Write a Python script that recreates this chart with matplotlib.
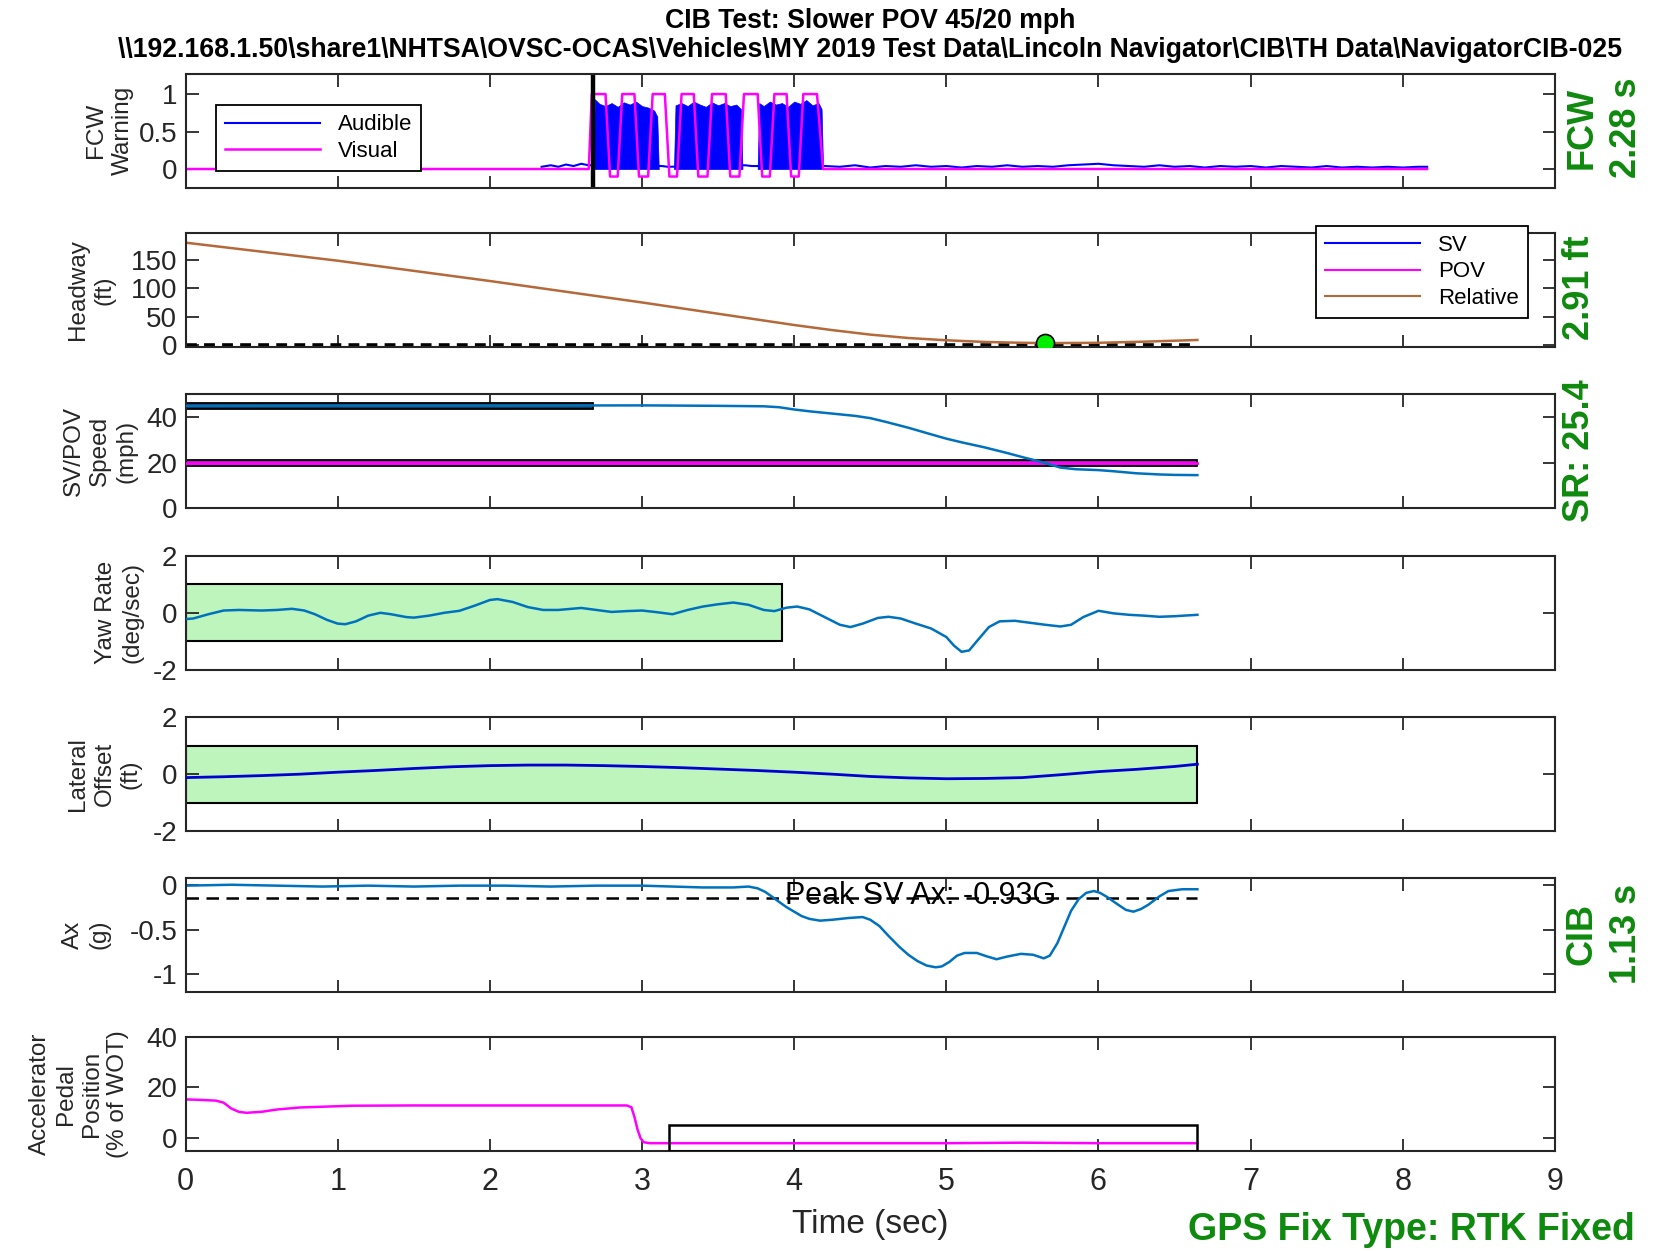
import matplotlib
matplotlib.use('Agg')
import matplotlib.pyplot as plt
from matplotlib.patches import Rectangle
from matplotlib.lines import Line2D

plt.rcParams['font.family'] = ['Liberation Sans', 'DejaVu Sans']

# ---------------- data ----------------
title_line1 = "CIB Test: Slower POV 45/20 mph"
title_line2 = r"\\192.168.1.50\share1\NHTSA\OVSC-OCAS\Vehicles\MY 2019 Test Data\Lincoln Navigator\CIB\TH Data\NavigatorCIB-025"

x_ticks = [0, 1, 2, 3, 4, 5, 6, 7, 8, 9]

# FCW panel
fcw_time = 2.68
vis_t = [0, 2.65, 2.67, 2.76, 2.79, 2.84, 2.87, 2.95, 2.98, 3.04, 3.07, 3.15, 3.18, 3.23,
         3.26, 3.34, 3.37, 3.43, 3.46, 3.55, 3.58, 3.64, 3.67, 3.76, 3.79, 3.84, 3.87, 3.95,
         3.98, 4.03, 4.06, 4.15, 4.19, 8.16]
vis_v = [0, 0, 1, 1, -0.1, -0.1, 1, 1, -0.1, -0.1, 1, 1, -0.1, -0.1,
         1, 1, -0.1, -0.1, 1, 1, -0.1, -0.1, 1, 1, -0.1, -0.1, 1, 1,
         -0.1, -0.1, 1, 1, 0, 0]
aud_base_t = [2.34, 2.40, 2.45, 2.50, 2.55, 2.60, 2.65, 3.13, 3.17, 3.68, 3.72,
              4.20, 4.30, 4.40, 4.50, 4.60, 4.70, 4.80, 4.90, 5.00, 5.10, 5.20, 5.30,
              5.40, 5.50, 5.60, 5.70, 5.80, 5.90, 6.00, 6.10, 6.20, 6.30, 6.40, 6.50,
              6.60, 6.70, 6.80, 6.90, 7.00, 7.10, 7.20, 7.30, 7.40, 7.50, 7.60, 7.70,
              7.80, 7.90, 8.00, 8.10, 8.16]
aud_base_v = [0.03, 0.05, 0.03, 0.06, 0.04, 0.07, 0.05, 0.04, 0.03, 0.05, 0.04,
              0.04, 0.03, 0.05, 0.02, 0.04, 0.03, 0.05, 0.03, 0.04, 0.02, 0.04, 0.03,
              0.05, 0.03, 0.04, 0.03, 0.05, 0.06, 0.07, 0.05, 0.04, 0.03, 0.05, 0.03,
              0.04, 0.02, 0.04, 0.03, 0.04, 0.02, 0.04, 0.03, 0.02, 0.04, 0.02, 0.03,
              0.02, 0.03, 0.02, 0.03, 0.03]
burst1_t = [2.68, 2.69, 2.72, 2.76, 2.80, 2.84, 2.88, 2.92, 2.96, 3.00, 3.04, 3.08, 3.10, 3.11]
burst1_v = [0.0, 0.93, 0.87, 0.84, 0.88, 0.83, 0.89, 0.86, 0.90, 0.84, 0.82, 0.78, 0.70, 0.0]
burst2_t = [3.21, 3.22, 3.26, 3.30, 3.34, 3.38, 3.42, 3.46, 3.50, 3.54, 3.58, 3.62, 3.65, 3.66]
burst2_v = [0.0, 0.85, 0.88, 0.84, 0.90, 0.86, 0.83, 0.89, 0.85, 0.88, 0.84, 0.86, 0.80, 0.0]
burst3_t = [3.76, 3.77, 3.80, 3.84, 3.88, 3.92, 3.96, 4.00, 4.04, 4.08, 4.12, 4.16, 4.18, 4.19]
burst3_v = [0.0, 0.88, 0.84, 0.90, 0.86, 0.88, 0.83, 0.90, 0.87, 0.92, 0.85, 0.88, 0.80, 0.0]

# Headway panel
head_t = [0, 0.5, 1.0, 1.5, 2.0, 2.5, 3.0, 3.5, 4.0, 4.25, 4.5, 4.75, 5.0, 5.25, 5.5, 5.65, 6.0, 6.3, 6.65]
head_rel = [181, 165, 149, 131, 113, 94, 75, 55, 35, 26, 18, 12, 8, 5, 3.5, 2.91, 3.5, 5.5, 8.5]
min_head_t = 5.65
min_head_v = 2.91
head_ref_t = [0, 6.65]
head_ref_v = [0, 0]

# Speed panel
sv_t = [0, 1.0, 2.0, 3.0, 3.5, 3.8, 3.9, 3.95, 4.0, 4.1, 4.25, 4.4, 4.5, 4.6, 4.75, 4.9, 5.0,
        5.1, 5.25, 5.4, 5.5, 5.6, 5.65, 5.7, 5.75, 5.85, 6.0, 6.1, 6.25, 6.4, 6.5, 6.65]
sv_v = [45.0, 45.1, 45.1, 45.2, 45.0, 44.8, 44.4, 43.9, 43.4, 42.6, 41.6, 40.6, 39.6, 38.0, 35.4,
        32.5, 30.6, 29.0, 26.8, 24.3, 22.5, 20.8, 19.9, 18.9, 17.9, 17.2, 16.8, 16.3, 15.4, 14.9,
        14.7, 14.6]
pov_t = [0, 6.65]
pov_v = [20, 20]
sv_band = (0.0, 2.68, 43.6, 46.4)
pov_band = (0.0, 6.65, 18.5, 21.4)

# Yaw rate panel
yaw_t = [0, 0.05, 0.15, 0.25, 0.35, 0.5, 0.6, 0.7, 0.78, 0.85, 0.93, 1.0, 1.05, 1.12, 1.2, 1.28,
         1.35, 1.45, 1.5, 1.6, 1.7, 1.8, 1.9, 2.0, 2.05, 2.15, 2.25, 2.35, 2.45, 2.6, 2.7, 2.8,
         2.9, 3.0, 3.1, 3.2, 3.3, 3.4, 3.5, 3.6, 3.7, 3.8, 3.87, 3.95, 4.02, 4.1, 4.2, 4.3, 4.37,
         4.45, 4.55, 4.62, 4.7, 4.8, 4.9, 5.0, 5.05, 5.1, 5.15, 5.2, 5.28, 5.35, 5.45, 5.55,
         5.65, 5.75, 5.82, 5.9, 6.0, 6.1, 6.2, 6.3, 6.4, 6.5, 6.65]
yaw_v = [-0.22, -0.20, -0.05, 0.08, 0.10, 0.08, 0.10, 0.14, 0.08, -0.05, -0.25, -0.38, -0.40,
         -0.30, -0.10, 0.00, -0.05, -0.15, -0.17, -0.10, 0.00, 0.07, 0.25, 0.45, 0.48, 0.38, 0.20,
         0.10, 0.10, 0.17, 0.10, 0.03, 0.06, 0.08, 0.02, -0.05, 0.10, 0.22, 0.30, 0.36, 0.28, 0.10,
         0.06, 0.18, 0.22, 0.12, -0.15, -0.42, -0.50, -0.38, -0.18, -0.14, -0.20, -0.38, -0.55,
         -0.85, -1.15, -1.37, -1.32, -1.00, -0.50, -0.30, -0.28, -0.35, -0.42, -0.48, -0.42, -0.15,
         0.07, -0.02, -0.07, -0.10, -0.14, -0.12, -0.07]
yaw_box = (0.0, 3.92, -1.0, 1.0)

# Lateral offset panel
lat_t = [0, 0.25, 0.5, 0.75, 1.0, 1.25, 1.5, 1.75, 2.0, 2.25, 2.5, 2.75, 3.0, 3.25, 3.5, 3.75,
         4.0, 4.25, 4.5, 4.75, 5.0, 5.25, 5.5, 5.75, 6.0, 6.25, 6.5, 6.65]
lat_v = [-0.12, -0.09, -0.05, 0.0, 0.07, 0.13, 0.20, 0.26, 0.30, 0.32, 0.32, 0.30, 0.27, 0.23,
         0.18, 0.13, 0.07, 0.0, -0.08, -0.13, -0.16, -0.15, -0.12, -0.02, 0.09, 0.17, 0.27, 0.35]
lat_box = (0.0, 6.65, -1.0, 1.0)

# Longitudinal acceleration panel
ax_t = [0, 0.3, 0.6, 0.9, 1.2, 1.5, 1.8, 2.1, 2.4, 2.7, 3.0, 3.2, 3.4, 3.6, 3.7, 3.76, 3.81,
        3.86, 3.90, 3.95, 4.0, 4.05, 4.1, 4.17, 4.25, 4.36, 4.45, 4.5, 4.56, 4.62, 4.69, 4.75,
        4.81, 4.87, 4.93, 4.97, 5.02, 5.07, 5.12, 5.2, 5.27, 5.33, 5.4, 5.49, 5.57, 5.64, 5.68,
        5.73, 5.78, 5.82, 5.87, 5.92, 5.97, 6.01, 6.06, 6.11, 6.18, 6.23, 6.28, 6.33, 6.4, 6.46,
        6.55, 6.65]
ax_v = [-0.01, 0.0, -0.01, -0.02, -0.01, -0.02, -0.01, -0.01, -0.02, -0.01, -0.01, -0.02, -0.03,
        -0.03, -0.02, -0.04, -0.08, -0.14, -0.19, -0.25, -0.30, -0.35, -0.38, -0.40, -0.39, -0.37,
        -0.36, -0.39, -0.46, -0.57, -0.69, -0.78, -0.85, -0.90, -0.92, -0.91, -0.86, -0.79, -0.76,
        -0.76, -0.80, -0.83, -0.80, -0.77, -0.78, -0.82, -0.79, -0.65, -0.45, -0.29, -0.16, -0.09,
        -0.07, -0.09, -0.14, -0.20, -0.28, -0.30, -0.27, -0.22, -0.13, -0.07, -0.05, -0.05]
ax_thresh_t = [0, 6.65]
ax_thresh_v = [-0.15, -0.15]
peak_label = "Peak SV Ax: -0.93G"

# Accelerator pedal panel
ped_t = [0, 0.1, 0.2, 0.25, 0.3, 0.35, 0.4, 0.5, 0.6, 0.75, 0.9, 1.1, 1.5, 2.0, 2.5, 2.9, 2.93,
         2.95, 2.97, 2.99, 3.01, 3.05, 4.0, 5.0, 5.5, 6.0, 6.65]
ped_v = [15.3, 15.1, 14.8, 14.0, 11.7, 10.4, 10.0, 10.4, 11.3, 12.1, 12.4, 12.8, 12.9, 12.9, 12.9,
         12.9, 12.2, 8.4, 3.5, 0.0, -1.6, -2.0, -2.0, -2.0, -1.8, -2.0, -2.0]
ped_box = (3.18, 6.65, -5.0, 5.0)

# Panel labels / limits / ticks
ylabels = ["FCW\nWarning", "Headway\n(ft)", "SV/POV\nSpeed\n(mph)", "Yaw Rate\n(deg/sec)",
           "Lateral\nOffset\n(ft)", "Ax\n(g)", "Accelerator\nPedal\nPosition\n(% of WOT)"]
ylims = [(-0.25, 1.27), (-4, 198), (0, 50), (-2, 2), (-2, 2), (-1.19, 0.08), (-5, 40)]
yticks = [[0, 0.5, 1], [0, 50, 100, 150], [0, 20, 40], [-2, 0, 2], [-2, 0, 2], [-1, -0.5, 0], [0, 20, 40]]
ytick_labels = [["0", "0.5", "1"], ["0", "50", "100", "150"], ["0", "20", "40"], ["-2", "0", "2"],
                ["-2", "0", "2"], ["-1", "-0.5", "0"], ["0", "20", "40"]]
ylabel_x = [-0.038, -0.051, -0.035, -0.031, -0.032, -0.055, -0.041]

side_texts = ["FCW\n2.28 s", "2.91 ft", "SR: 25.4", "CIB\n1.13 s"]
gps_text = "GPS Fix Type: RTK Fixed"

# ---------------- styling ----------------
C_AX = '#262626'
C_BLUE = '#0072BD'
C_B = '#0000FF'
C_MAG = '#FF00FF'
C_BROWN = '#B5693A'
C_GREEN_FILL = '#BDF5BD'
C_GREEN_TXT = '#0E8A0E'

fig = plt.figure(figsize=(16.54, 12.51), dpi=100)
L, W, H = 0.1122, 0.8279, 0.0911
bottoms = [0.8499, 0.7226, 0.5936, 0.4646, 0.3356, 0.2074, 0.0801]
axs = [fig.add_axes([L, b, W, H]) for b in bottoms]

for i, ax in enumerate(axs):
    ax.set_xlim(0, 9)
    ax.set_ylim(*ylims[i])
    ax.set_xticks(x_ticks)
    ax.set_yticks(yticks[i])
    ax.set_yticklabels(ytick_labels[i])
    ax.tick_params(direction='in', length=9, width=1.3, top=True, right=True,
                   colors=C_AX, labelsize=20, pad=6)
    if i < 6:
        ax.tick_params(labelbottom=False)
    else:
        ax.tick_params(axis='x', labelsize=22, pad=12)
    for sp in ax.spines.values():
        sp.set_linewidth(1.5)
        sp.set_color(C_AX)
    ax.set_ylabel(ylabels[i], fontsize=17.5, color=C_AX, linespacing=1.25)
    ax.yaxis.set_label_coords(ylabel_x[i], 0.5)

# Panel 1: FCW
a = axs[0]
a.plot(aud_base_t, aud_base_v, color=C_B, lw=1.5, label='Audible')
for bt, bv in [(burst1_t, burst1_v), (burst2_t, burst2_v), (burst3_t, burst3_v)]:
    a.fill_between(bt, 0, bv, color=C_B, lw=0.5)
a.plot(vis_t, vis_v, color=C_MAG, lw=1.8, label='Visual')
a.axvline(fcw_time, color='black', lw=3.2)
leg = a.legend(loc='upper left', bbox_to_anchor=(0.0222, 0.722), borderaxespad=0,
               fontsize=16, handlelength=4.3, fancybox=False, framealpha=1,
               edgecolor='black', borderpad=0.4, labelspacing=0.25)
leg.get_frame().set_linewidth(1.3)
a.set_title(title_line1 + "\n" + title_line2, fontsize=19.2, fontweight='bold', pad=12,
            linespacing=1.15)

# Panel 2: Headway
a = axs[1]
a.plot(head_ref_t, head_ref_v, color='black', lw=2.6, ls=(0, (3, 2)))
a.plot(head_t, head_rel, color=C_BROWN, lw=1.8)
a.plot([min_head_t], [min_head_v], 'o', ms=13, mfc='#00EE00', mec='black', mew=1.2, zorder=5)
handles = [Line2D([], [], color=C_B, lw=1.5), Line2D([], [], color=C_MAG, lw=1.5),
           Line2D([], [], color=C_BROWN, lw=1.5)]
leg2 = a.legend(handles, ['SV', 'POV', 'Relative'], loc='upper right', bbox_to_anchor=(0.980, 1.062),
                borderaxespad=0, fontsize=16, handlelength=4.3, fancybox=False, framealpha=1,
                edgecolor='black', borderpad=0.4, labelspacing=0.25)
leg2.get_frame().set_linewidth(1.3)
leg2.set_zorder(10)

# Panel 3: Speed
a = axs[2]
r = Rectangle((sv_band[0], sv_band[2]), sv_band[1] - sv_band[0], sv_band[3] - sv_band[2],
              facecolor='#17395A', edgecolor='black', lw=1.3, zorder=2)
a.add_patch(r)
r = Rectangle((pov_band[0], pov_band[2]), pov_band[1] - pov_band[0], pov_band[3] - pov_band[2],
              facecolor='#B020B0', edgecolor='black', lw=1.3, zorder=2)
a.add_patch(r)
a.plot(pov_t, pov_v, color=C_MAG, lw=2.0, zorder=3)
a.plot(sv_t, sv_v, color=C_BLUE, lw=1.8, zorder=4)

# Panel 4: Yaw
a = axs[3]
a.add_patch(Rectangle((yaw_box[0], yaw_box[2]), yaw_box[1] - yaw_box[0], yaw_box[3] - yaw_box[2],
                      facecolor=C_GREEN_FILL, edgecolor='black', lw=1.5, zorder=1))
a.plot(yaw_t, yaw_v, color=C_BLUE, lw=1.8, zorder=3)

# Panel 5: Lateral
a = axs[4]
a.add_patch(Rectangle((lat_box[0], lat_box[2]), lat_box[1] - lat_box[0], lat_box[3] - lat_box[2],
                      facecolor=C_GREEN_FILL, edgecolor='black', lw=1.5, zorder=1))
a.plot(lat_t, lat_v, color='#0000D0', lw=2.0, zorder=3)

# Panel 6: Ax
a = axs[5]
a.plot(ax_thresh_t, ax_thresh_v, color='black', lw=1.8, ls=(0, (5, 3)))
a.plot(ax_t, ax_v, color=C_BLUE, lw=1.8)
a.text(4.83, -0.125, peak_label, fontsize=22, ha='center', va='center', color='black')

# Panel 7: Pedal
a = axs[6]
a.add_patch(Rectangle((ped_box[0], ped_box[2]), ped_box[1] - ped_box[0], ped_box[3] - ped_box[2],
                      facecolor='none', edgecolor='black', lw=1.8, zorder=3))
a.plot(ped_t, ped_v, color=C_MAG, lw=1.8, zorder=2)
a.set_xlabel("Time (sec)", fontsize=24, color=C_AX, labelpad=8)

# Side annotations
kw = dict(rotation=90, ha='center', va='center', color=C_GREEN_TXT, fontsize=26,
          fontweight='bold', linespacing=1.35)
fig.text(0.9700, 0.898, side_texts[0], **kw)
fig.text(0.9547, 0.770, side_texts[1], **kw)
fig.text(0.9547, 0.640, side_texts[2], **kw)
fig.text(0.9700, 0.2535, side_texts[3], **kw)
fig.text(0.9885, 0.0168, gps_text, ha='right', va='center', color=C_GREEN_TXT,
         fontsize=27, fontweight='bold')

fig.savefig('out.png', dpi=100)
